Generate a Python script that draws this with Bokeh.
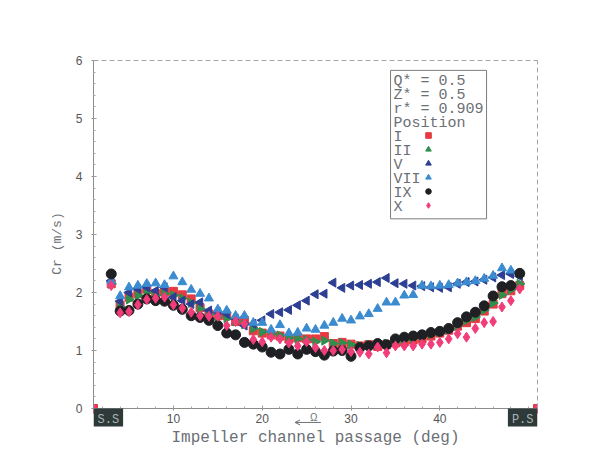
import math
from bokeh.plotting import figure
from bokeh.models import (Range1d, FixedTicker, SingleIntervalTicker, Legend, LegendItem,
                          Label, Arrow, OpenHead, LinearAxis, Title)
from bokeh.core.properties import value
from bokeh.embed import file_html
from bokeh.resources import INLINE

# ---------------- data ----------------
angle_deg = list(range(3, 50))          # measuring positions across the channel (deg)
wall_deg = [1, 51]                      # suction side / pressure side walls
wall_cr = [0.0, 0.0]

cr_I = [2.15, 1.78, 1.92, 1.98, 2.06, 1.98, 2.01, 2.02, 1.96, 1.89, 1.74, 1.63, 1.60, 1.60,
        1.50, 1.52, 1.34, 1.30, 1.27, 1.25, 1.20, 1.22, 1.20, 1.20, 1.24, 1.12, 1.14, 1.11,
        1.08, 1.10, 1.07, 1.10, 1.13, 1.15, 1.18, 1.20, 1.25, 1.30, 1.35, 1.42, 1.48, 1.55,
        1.68, 1.80, 1.98, 2.03, 2.12]
cr_II = [2.15, 1.75, 1.88, 1.95, 2.00, 1.95, 1.98, 1.95, 1.90, 1.82, 1.72, 1.62, 1.58, 1.55,
         1.50, 1.45, 1.38, 1.32, 1.28, 1.26, 1.22, 1.20, 1.18, 1.15, 1.17, 1.12, 1.13, 1.10,
         1.08, 1.10, 1.09, 1.12, 1.15, 1.18, 1.22, 1.25, 1.28, 1.32, 1.36, 1.43, 1.52, 1.58,
         1.70, 1.82, 1.96, 2.05, 2.15]
cr_V = [2.20, 1.85, 2.00, 2.06, 2.09, 2.03, 2.09, 1.92, 1.86, 1.80, 1.83, 1.69, 1.66, 1.63,
        1.55, 1.43, 1.46, 1.52, 1.63, 1.66, 1.70, 1.78, 1.86, 1.97, 1.98, 2.17, 2.08, 2.12,
        2.13, 2.15, 2.18, 2.25, 2.16, 2.15, 2.12, 2.11, 2.09, 2.08, 2.09, 2.15, 2.18, 2.19,
        2.22, 2.26, 2.30, 2.32, 2.28]
cr_VII = [2.20, 1.94, 2.09, 2.12, 2.15, 2.16, 2.13, 2.28, 2.18, 2.05, 1.98, 1.90, 1.71, 1.69,
          1.60, 1.60, 1.48, 1.48, 1.36, 1.44, 1.30, 1.31, 1.38, 1.36, 1.43, 1.48, 1.55, 1.52,
          1.59, 1.63, 1.72, 1.83, 1.83, 1.95, 1.96, 2.12, 2.11, 2.12, 2.13, 2.16, 2.18, 2.20,
          2.24, 2.29, 2.42, 2.38, 2.32]
cr_IX = [2.32, 1.68, 1.69, 1.80, 1.89, 1.86, 1.85, 1.78, 1.71, 1.60, 1.57, 1.52, 1.43, 1.30,
         1.27, 1.14, 1.11, 1.06, 0.97, 0.94, 1.02, 0.94, 1.02, 0.98, 0.92, 0.99, 1.00, 0.90,
         1.05, 1.08, 1.12, 1.10, 1.20, 1.23, 1.25, 1.27, 1.31, 1.33, 1.38, 1.48, 1.58, 1.66,
         1.77, 1.94, 2.10, 2.12, 2.33]
cr_X = [2.12, 1.65, 1.67, 1.79, 1.88, 1.90, 1.92, 1.79, 1.73, 1.66, 1.60, 1.59, 1.59, 1.43,
        1.50, 1.46, 1.19, 1.15, 1.23, 1.20, 1.13, 1.08, 1.15, 1.05, 1.00, 1.00, 1.02, 0.98,
        0.97, 0.94, 1.06, 0.96, 1.08, 1.08, 1.08, 1.11, 1.11, 1.14, 1.20, 1.29, 1.23, 1.38,
        1.48, 1.50, 1.75, 1.86, 2.06]

position_names = ["I", "II", "V", "VII", "IX", "X"]
info_rows = ["Q* = 0.5", "Z* = 0.5", "r* = 0.909", "Position"]
x_ticks = [10, 20, 30, 40]
x_minor = list(range(2, 52, 2))
y_interval = 1

# ---------------- styling ----------------
MONO = "Liberation Mono"
SANS = "Liberation Sans"
TXT = "#6b7075"
AX = "#8c8c8c"

p = figure(width=607, height=456, x_range=Range1d(1, 51), y_range=Range1d(-0.31, 6),
           output_backend="svg", toolbar_location=None,
           min_border_left=93, min_border_right=70, min_border_top=60, min_border_bottom=30,
           background_fill_color="white", border_fill_color="white")
p.grid.visible = False
p.outline_line_color = None

xa = p.xaxis[0]
ya = p.yaxis[0]
xa.ticker = FixedTicker(ticks=x_ticks, minor_ticks=x_minor)
xa.fixed_location = 0
ya.ticker = SingleIntervalTicker(interval=y_interval, num_minor_ticks=5)
ya.bounds = (0, 6)
for ax in (xa, ya):
    ax.axis_line_color = AX
    ax.major_tick_line_color = AX
    ax.minor_tick_line_color = "#a8a8a8"
    ax.major_tick_in = 3
    ax.major_tick_out = 2
    ax.minor_tick_in = 2
    ax.minor_tick_out = 0
    ax.major_label_text_font = SANS
    ax.major_label_text_font_size = "12px"
    ax.major_label_text_color = "#555555"
    ax.axis_label_text_font = MONO
    ax.axis_label_text_font_style = "normal"
    ax.axis_label_text_color = TXT
xa.major_label_standoff = 3
ya.major_label_standoff = 9
ya.axis_label = "Cr (m/s)"
ya.axis_label_text_font_size = "13px"
ya.axis_label_standoff = 8

top_ax = LinearAxis(ticker=FixedTicker(ticks=[]), axis_line_color="#a4a4a4", axis_line_dash="5 3")
right_ax = LinearAxis(ticker=FixedTicker(ticks=[]), bounds=(0, 6),
                      axis_line_color="#a4a4a4", axis_line_dash="5 3")
p.add_layout(top_ax, "above")
p.add_layout(right_ax, "right")

p.add_layout(Title(text="Impeller channel passage (deg)", align="center", text_font=MONO,
                   text_font_size="16px", text_font_style="normal", text_color=TXT,
                   standoff=0), "below")

# ---------------- series ----------------
r_I = p.scatter(angle_deg, cr_I, marker="square", size=8, color="#e63a40")
r_II = p.scatter(angle_deg, cr_II, marker="triangle", angle=-math.pi / 2, size=9, color="#2f8f4e")
r_V = p.scatter(angle_deg, cr_V, marker="triangle", angle=math.pi / 2, size=9, color="#2d3f93")
r_VII = p.scatter(angle_deg, cr_VII, marker="triangle", size=9, color="#3b8bd0")
r_IX = p.scatter(angle_deg, cr_IX, marker="circle", size=10, color="#1f2024")
r_X = p.scatter(angle_deg, cr_X, marker="diamond", size=10, color="#f23d7a")
p.scatter(wall_deg, wall_cr, marker="square", size=8, color="#e63a40")
p.scatter(wall_deg, wall_cr, marker="diamond", size=10, color="#f23d7a")
rends = [r_I, r_II, r_V, r_VII, r_IX, r_X]

# ---------------- legend: text box + glyph column ----------------
legend_text = "\n".join(info_rows + position_names)
p.add_layout(Label(x=34.45, y=5.83, text=legend_text, text_font=MONO, text_font_size="15px",
                   text_color=TXT, text_line_height=0.82, text_align="left", text_baseline="top",
                   padding=3, border_line_color="#7c7c7c", border_line_width=1,
                   background_fill_color="white"))
legB = Legend(items=[LegendItem(label=value(" "), renderers=[r]) for r in rends],
              location=(325, 214), orientation="vertical", margin=0, padding=3, spacing=0,
              glyph_width=20, glyph_height=14, label_height=14, label_standoff=0,
              label_text_font=MONO, label_text_font_size="10px",
              border_line_color=None, background_fill_alpha=0)
p.add_layout(legB)

# ---------------- wall / rotation labels ----------------
for xs, txt, al in ((1, "S.S", "left"), (51, "P.S", "right")):
    p.add_layout(Label(x=xs, y=0, text=txt, text_font=MONO, text_font_size="12px",
                       text_color="#aab3b3", background_fill_color="#2e3939",
                       text_align=al, text_baseline="top", padding=4))
p.add_layout(Label(x=25.8, y=-0.16, text="Ω", text_font=SANS, text_font_size="10px",
                   text_color=TXT, text_align="center", text_baseline="middle"))
p.add_layout(Arrow(x_start=26.6, y_start=-0.24, x_end=23.7, y_end=-0.24,
                   line_color=TXT, line_width=1,
                   end=OpenHead(size=5, line_color=TXT, line_width=1)))

open("out.html", "w").write(file_html(p, INLINE))
